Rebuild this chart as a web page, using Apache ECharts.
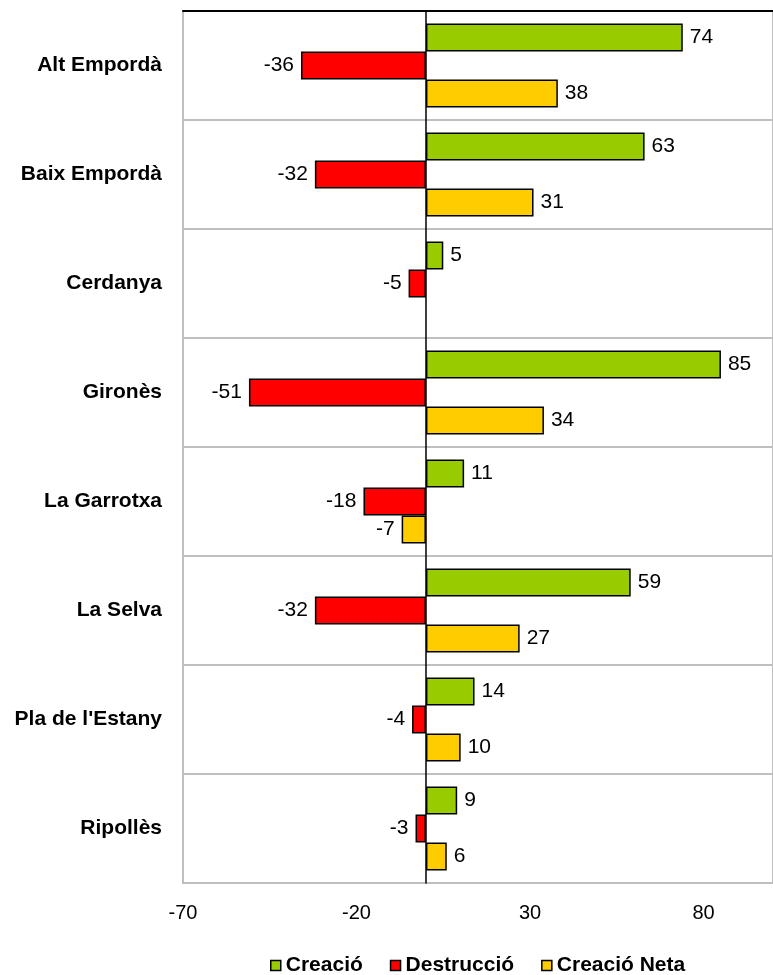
<!DOCTYPE html>
<html><head><meta charset="utf-8">
<script src="https://cdn.jsdelivr.net/npm/echarts@6/dist/echarts.min.js"></script>
<style>html,body{margin:0;padding:0;background:#fff}#c{width:773px;height:975px}</style>
</head><body><div id="c"></div>
<script>
var categories = ["Alt Empordà","Baix Empordà","Cerdanya","Gironès","La Garrotxa","La Selva","Pla de l'Estany","Ripollès"];
var creacio = [74, 63, 5, 85, 11, 59, 14, 9];
var destruccio = [-36, -32, -5, -51, -18, -32, -4, -3];
var creacioNeta = [38, 31, 0, 34, -7, 27, 10, 6];
var xTicks = [-70, -20, 30, 80];

var FONT = "'Liberation Sans', Arial, sans-serif";
function mk(vals){
  return vals.map(function(v){
    if (v === 0) return {value: v, label:{show:false}, itemStyle:{borderWidth:0}};
    return {value: v, label:{position: v < 0 ? 'left' : 'right'}};
  });
}
function series(name, vals, color){
  return {
    name: name, type: 'bar', data: mk(vals), barWidth: 28, barGap: '0%',
    itemStyle: {color: color, borderColor: '#000', borderWidth: 1.5},
    label: {show: true, distance: 7, color: '#000', fontFamily: FONT, fontSize: 21},
    emphasis: {disabled: true}
  };
}
var chart = echarts.init(document.getElementById('c'));
chart.setOption({
  animation: false,
  grid: {left: 183, right: 0, top: 11, bottom: 92, show: true, borderColor: '#bfbfbf', borderWidth: 2},
  legend: {
    data: ['Creació','Destrucció','Creació Neta'], left: 265, top: 950, icon: 'rect',
    itemWidth: 10, itemHeight: 10, itemGap: 27,
    itemStyle: {borderColor: '#000', borderWidth: 1.5},
    textStyle: {fontFamily: FONT, fontSize: 21, fontWeight: 'bold', color: '#000'}
  },
  xAxis: [{
    type: 'value', min: -70, max: 100, interval: 50,
    axisLine: {show: false}, axisTick: {show: false}, splitLine: {show: false},
    axisLabel: {margin: 20, fontFamily: FONT, fontSize: 20, color: '#000', showMaxLabel: false,
      formatter: function(v){ return xTicks.indexOf(v) >= 0 ? String(v) : ''; }}
  },{
    type: 'value', position: 'top', min: -70, max: 100,
    axisLine: {show: true, lineStyle: {color: '#000', width: 2}}, axisTick: {show: false},
    axisLabel: {show: false}, splitLine: {show: false}
  }],
  yAxis: {
    type: 'category', data: categories, inverse: true,
    axisLine: {show: true, onZero: true, lineStyle: {color: '#000', width: 1.5}},
    axisTick: {show: false},
    splitLine: {show: true, lineStyle: {color: '#bfbfbf', width: 2}},
    axisLabel: {margin: 21, fontFamily: FONT, fontSize: 21, fontWeight: 'bold', color: '#000'}
  },
  series: [
    series('Creació', creacio, '#99cc00'),
    series('Destrucció', destruccio, '#ff0000'),
    series('Creació Neta', creacioNeta, '#ffcc00')
  ]
});
</script></body></html>
